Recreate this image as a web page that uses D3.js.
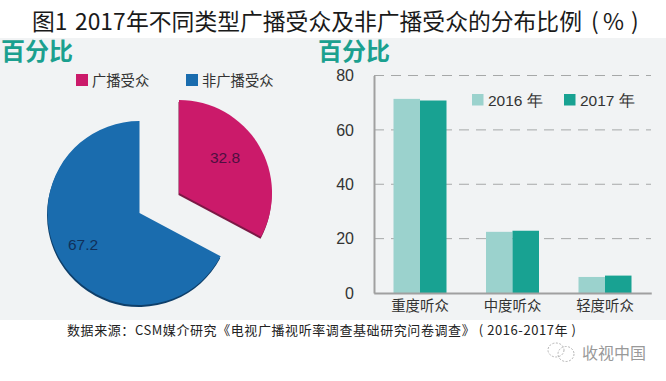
<!DOCTYPE html>
<html><head><meta charset="utf-8">
<script src="https://cdnjs.cloudflare.com/ajax/libs/d3/7.8.5/d3.min.js"></script>
<style>html,body{margin:0;padding:0;background:#fff}svg{display:block}
text{font-family:"Noto Sans CJK SC","Liberation Sans",sans-serif}
.num{font-family:"Liberation Sans",Arial,sans-serif}</style></head>
<body><svg id="c" width="666" height="381"></svg>
<script>
const titleParts = ["图1","2017","年不同类型广播受众及非广播受众的分布比例","(","%",")"];
const sourceText = "数据来源：CSM媒介研究《电视广播视听率调查基础研究问卷调查》 ( 2016-2017年 )";
const pieLabels = ["广播受众","非广播受众"];
const pieValues = [32.8,67.2];
const pieColors = ["#cb1a6a","#1a6cae"];
const pieShadow = ["#7c1845","#0e3f6a"];
const pieTextColors = ["#4f0f40","#10305a"];
const categories = ["重度听众","中度听众","轻度听众"];
const seriesNames = ["2016 年","2017 年"];
const values2016 = [71.4,22.5,5.9];
const values2017 = [70.8,22.9,6.4];
const barColors = ["#9bd2cd","#18a292"];
const yTicks = [0,20,40,60,80];

const svg = d3.select("#c");
svg.append("rect").attr("x",0).attr("y",38).attr("width",666).attr("height",282).attr("fill","#f1f3f4");
const title = svg.append("text").attr("y",30).attr("font-size",22.8).attr("fill","#1a1a1a");
const titleX = [32,75,126,591,603,631];
titleParts.forEach((p,i)=>title.append("tspan").attr("x",titleX[i]).text(p));
[1,318].forEach(x=>svg.append("text").attr("x",x).attr("y",60).attr("font-size",24).attr("font-weight",700).attr("fill","#1ba08f").text("百分比"));

// legend for pie
[[76,92],[186,202]].forEach(([sx,tx],i)=>{
  svg.append("rect").attr("x",sx).attr("y",74).attr("width",12).attr("height",12).attr("fill",pieColors[i]);
  svg.append("text").attr("x",tx).attr("y",86).attr("font-size",14.3).attr("fill","#333").text(pieLabels[i]);
});

// pie
const arcs = d3.pie().sort(null)(pieValues);
const radii = [93,92];
const centers = [[179,193],[139.5,213]];
arcs.forEach((d,i)=>{
  const arc = d3.arc().innerRadius(0).outerRadius(radii[i]);
  const g = svg.append("g").attr("transform",`translate(${centers[i][0]},${centers[i][1]})`);
  g.append("path").attr("d",arc(d)).attr("transform","translate(-0.5,2)").attr("fill",pieShadow[i]);
  g.append("path").attr("d",arc(d)).attr("fill",pieColors[i]);
});
const pieLabelPos=[[225,162.5],[83,249.5]];
pieValues.forEach((v,i)=>svg.append("text").attr("class","num").attr("x",pieLabelPos[i][0]).attr("y",pieLabelPos[i][1])
  .attr("text-anchor","middle").attr("font-size",15.5).attr("fill",pieTextColors[i]).text(v.toFixed(1)));

// bars
const x0 = d3.scaleBand().domain(categories).range([373.75,651.25]).paddingInner(0.427).paddingOuter(0.2135);
const x1 = d3.scaleBand().domain(seriesNames).range([0,x0.bandwidth()]);
const y = d3.scaleLinear().domain([0,80]).range([293,75.5]);

const grid = svg.append("g");
yTicks.filter(t=>t>0).forEach(t=>grid.append("line").attr("x1",374).attr("x2",651).attr("y1",y(t)).attr("y2",y(t))
  .attr("stroke","#a6a8a8").attr("stroke-width",1).attr("stroke-dasharray","10 7"));

[values2016,values2017].forEach((vals,s)=>{
  svg.append("g").selectAll("rect").data(vals).join("rect")
    .attr("x",(d,i)=>x0(categories[i])+x1(seriesNames[s]))
    .attr("y",d=>y(d)).attr("width",x1.bandwidth()).attr("height",d=>y(0)-y(d)).attr("fill",barColors[s]);
});

const yAxis = d3.axisLeft(y).tickValues(yTicks).tickSize(0).tickPadding(20);
const ya = svg.append("g").attr("transform","translate(374,0)").call(yAxis);
ya.select(".domain").attr("stroke","#a0a0a0").attr("stroke-width",2);
ya.selectAll("text").attr("class","num").attr("font-size",16).attr("fill","#333");
const xAxis = d3.axisBottom(x0).tickSize(0).tickPadding(8);
const xa = svg.append("g").attr("transform","translate(0,293)").call(xAxis);
xa.select(".domain").attr("stroke","#a0a0a0").attr("stroke-width",2);
xa.selectAll("text").attr("font-size",14.4).attr("fill","#333");

// bar legend
[[472,488],[564,580]].forEach(([sx,tx],i)=>{
  svg.append("rect").attr("x",sx).attr("y",94).attr("width",11.5).attr("height",11.5).attr("fill",barColors[i]);
  svg.append("text").attr("class","num").attr("x",tx).attr("y",106).attr("font-size",15.5).attr("fill","#333").text(seriesNames[i]);
});

svg.append("text").attr("x",67).attr("y",335).attr("font-size",13).attr("fill","#222")
  .attr("textLength",509).attr("lengthAdjust","spacing").text(sourceText);

// watermark
const wm = svg.append("g").attr("fill","none").attr("stroke","#b5b5b5").attr("stroke-width",1).attr("stroke-dasharray","2 1.5");
wm.append("ellipse").attr("cx",556).attr("cy",350).attr("rx",8).attr("ry",7);
wm.append("ellipse").attr("cx",566).attr("cy",354).attr("rx",8).attr("ry",7.5);
svg.append("text").attr("x",582).attr("y",358.5).attr("font-size",16).attr("fill","#999").text("收视中国");
</script></body></html>
